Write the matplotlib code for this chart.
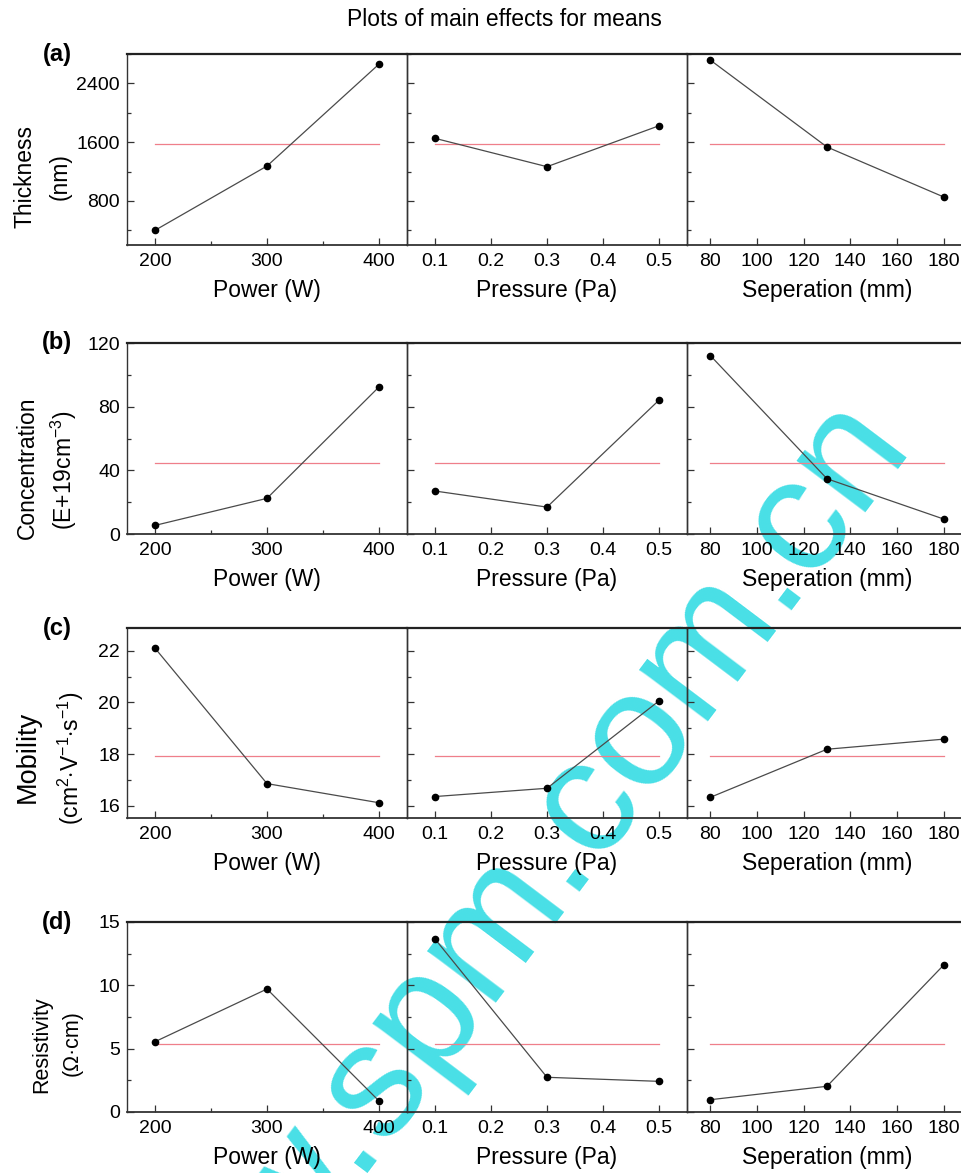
import numpy as np
import matplotlib
matplotlib.use('Agg')
from matplotlib import pyplot as plt
from matplotlib.ticker import MultipleLocator, FixedLocator

plt.rcParams['font.family'] = ['Liberation Sans', 'DejaVu Sans']
plt.rcParams['mathtext.fontset'] = 'custom'
plt.rcParams['mathtext.rm'] = 'Liberation Sans'
plt.rcParams['mathtext.it'] = 'Liberation Sans:italic'

# factor levels
power = [200, 300, 400]
pressure = [0.1, 0.3, 0.5]
separation = [80, 130, 180]

# main effect means
thick_power = [400, 1275, 2662]
thick_pressure = [1652, 1266, 1823]
thick_sep = [2717, 1534, 854]
thick_mean = 1580

conc_power = [5.4, 22.4, 92.4]
conc_pressure = [27.0, 16.9, 84.1]
conc_sep = [112.1, 34.7, 9.4]
conc_mean = 44.5

mob_power = [22.1, 16.86, 16.12]
mob_pressure = [16.36, 16.68, 20.06]
mob_sep = [16.33, 18.19, 18.58]
mob_mean = 17.91

res_power = [5.55, 9.71, 0.87]
res_pressure = [13.66, 2.74, 2.42]
res_sep = [0.97, 2.03, 11.6]
res_mean = 5.34

xlabels = ['Power (W)', 'Pressure (Pa)', 'Seperation (mm)']
levels = [power, pressure, separation]

W, H = 962, 1173
fig = plt.figure(figsize=(W / 100, H / 100), dpi=100)

def px(x, y):
    return x / W, 1 - y / H

# watermark
fig.text(*px(500, 928), 'www.spm.com.cn', rotation=53, rotation_mode='anchor',
         ha='center', va='center', fontsize=117, color='#48dfe6', zorder=-5)

rows = [
    dict(data=[thick_power, thick_pressure, thick_sep], mean=thick_mean,
         ylim=(200, 2800), major=[800, 1600, 2400], minor=400,
         top=54, bottom=245, tag='(a)'),
    dict(data=[conc_power, conc_pressure, conc_sep], mean=conc_mean,
         ylim=(0, 120), major=[0, 40, 80, 120], minor=20,
         top=343, bottom=534, tag='(b)'),
    dict(data=[mob_power, mob_pressure, mob_sep], mean=mob_mean,
         ylim=(15.53, 22.88), major=[16, 18, 20, 22], minor=1,
         top=628, bottom=818, tag='(c)'),
    dict(data=[res_power, res_pressure, res_sep], mean=res_mean,
         ylim=(0, 15), major=[0, 5, 10, 15], minor=2.5,
         top=922, bottom=1112, tag='(d)'),
]

col_left = [127, 407, 687]
col_w = 280
xlims = [(175, 425), (0.05, 0.55), (70, 190)]
xmajors = [[200, 300, 400], [0.1, 0.2, 0.3, 0.4, 0.5], [80, 100, 120, 140, 160, 180]]
xminors = [[250, 350], [], []]

for r in rows:
    for c in range(3):
        l, b = px(col_left[c], r['bottom'])
        ax = fig.add_axes([l, b, col_w / W, (r['bottom'] - r['top']) / H])
        ax.set_facecolor('none')
        ax.plot([levels[c][0], levels[c][-1]], [r['mean'], r['mean']],
                color='#ef7f8a', lw=0.9, zorder=2)
        ax.plot(levels[c], r['data'][c], color='#4a4a4a', lw=0.9, marker='o',
                ms=4.5, mfc='black', mec='black', zorder=3)
        ax.set_xlim(*xlims[c])
        ax.set_ylim(*r['ylim'])
        ax.xaxis.set_major_locator(FixedLocator(xmajors[c]))
        ax.xaxis.set_minor_locator(FixedLocator(xminors[c]))
        ax.yaxis.set_major_locator(FixedLocator(r['major']))
        ax.yaxis.set_minor_locator(MultipleLocator(r['minor']))
        ax.tick_params(which='both', direction='in', top=False, right=False,
                       color='#333333', width=0.9)
        ax.tick_params(which='major', length=5, labelsize=14, pad=5)
        ax.tick_params(which='minor', length=3)
        ax.tick_params(axis='x', which='major', pad=6)
        if c == 1:
            ax.xaxis.set_major_formatter(plt.FormatStrFormatter('%.1f'))
        if c > 0:
            ax.tick_params(axis='y', labelleft=False)
        for s in ax.spines.values():
            s.set_color('#333333')
            s.set_linewidth(1.0)
        ax.spines['top'].set_linewidth(1.6)
        ax.spines['top'].set_color('#222222')
        ax.spines['bottom'].set_linewidth(1.3)
        ax.set_xlabel(xlabels[c], fontsize=16.5, labelpad=6.5)
    fig.text(*px(57, r['top']), r['tag'], fontsize=17, fontweight='bold',
             ha='center', va='center')

# y labels (two lines each)
fig.text(*px(25, 176), 'Thickness', rotation=90, fontsize=16.5, ha='center', va='center')
fig.text(*px(60, 177), '(nm)', rotation=90, fontsize=16.5, ha='center', va='center')
fig.text(*px(27, 468), 'Concentration', rotation=90, fontsize=16.5, ha='center', va='center')
fig.text(*px(64, 470), r'(E+19cm$\mathregular{^{-3}}$)', rotation=90, fontsize=16.5,
         ha='center', va='center')
fig.text(*px(28, 757), 'Mobility', rotation=90, fontsize=19.5, ha='center', va='center')
fig.text(*px(71, 758), r'(cm$\mathregular{^{2}}$$\cdot$V$\mathregular{^{-1}}$$\cdot$s$\mathregular{^{-1}}$)',
         rotation=90, fontsize=16.5, ha='center', va='center')
fig.text(*px(42, 1045), 'Resistivity', rotation=90, fontsize=15.5, ha='center', va='center')
fig.text(*px(72, 1043), '(Ω·cm)', rotation=90, fontsize=15.5, ha='center', va='center')

fig.text(*px(504, 20), 'Plots of main effects for means', fontsize=16.5,
         ha='center', va='center')

plt.savefig('out.png', dpi=100)
